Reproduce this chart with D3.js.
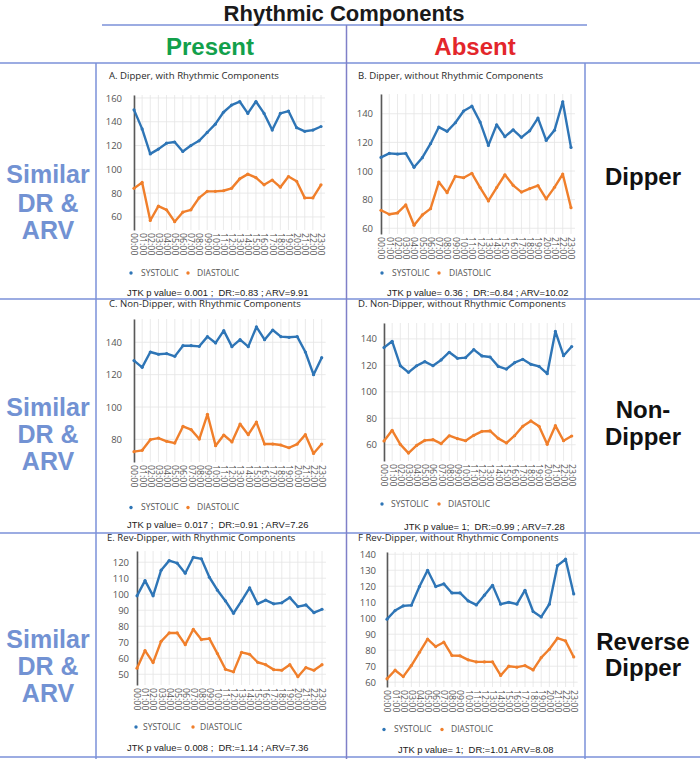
<!DOCTYPE html>
<html><head><meta charset="utf-8">
<script src="https://cdn.jsdelivr.net/npm/d3@7"></script>
<style>
html,body{margin:0;padding:0;background:#fff;}
svg{display:block;}
</style></head>
<body>
<svg id="chart" width="700" height="759"></svg>
<script>
// ---------------- DATA ----------------
const hours = ["00:00","01:00","02:00","03:00","04:00","05:00","06:00","07:00","08:00","09:00","10:00","11:00",
               "12:00","13:00","14:00","15:00","16:00","17:00","18:00","19:00","20:00","21:00","22:00","23:00"];
const seriesNames = ["SYSTOLIC","DIASTOLIC"];
const headerTitle = "Rhythmic Components";
const columnLabels = ["Present","Absent"];
const rowLeftLabels = [["Similar","DR &","ARV"],["Similar","DR &","ARV"],["Similar","DR &","ARV"]];
const rowRightLabels = [["Dipper"],["Non-","Dipper"],["Reverse","Dipper"]];

const panelTitles = [
  "A. Dipper, with Rhythmic Components",
  "B. Dipper, without Rhythmic Components",
  "C. Non-Dipper, with Rhythmic Components",
  "D. Non-Dipper, without Rhythmic Components",
  "E. Rev-Dipper, with Rhythmic Components",
  "F Rev-Dipper, without Rhythmic Components"
];
const panelStats = [
  "JTK p value= 0.001 ;  DR:=0.83 ; ARV=9.91",
  "JTK p value= 0.36 ;  DR:=0.84 ; ARV=10.02",
  "JTK p value= 0.017 ;  DR:=0.91 ; ARV=7.26",
  "JTK p value= 1;  DR:=0.99 ; ARV=7.28",
  "JTK p value= 0.008 ;  DR:=1.14 ; ARV=7.36",
  "JTK p value= 1;  DR:=1.01 ARV=8.08"
];

const sysA = [150,134,113,117,122,123,115,120,124,131,138,148,154,157,147,157,147,133,147,149,135,132,133,136];
const diaA = [84,89,57,69,66,56,64,66,76,81.5,81.5,82,84,92,96,93,87,91,85,94,90,76,76,87];
const sysB = [109.5,112.3,111.9,112.3,102.6,109.3,119.1,130.7,127.7,133.7,141.9,145.3,134.2,117.9,132.3,124,128.8,123.5,128.1,137,121.4,128.4,148.4,116.5];
const diaB = [72.6,69.8,70.7,76.3,62.1,69.3,73.7,92.3,84.9,96.3,95.3,98.4,88.4,79.1,88.4,97.4,90,85.3,87.7,89.8,80.5,88.6,97.9,74.4];
const sysC = [128.7,124.5,134,132.6,133,131.3,137.9,137.9,137.5,143.5,139.6,147.2,137.3,141.6,137.3,149.5,141.6,147.6,143.5,143.1,143.5,134,120,130.5];
const diaC = [72.4,73.2,79.8,80.8,78.8,77.7,88,86,80.2,95.5,76.1,82.7,78.4,89.5,82.9,90.7,77.1,77.1,76.5,74.8,77.1,82.9,71.3,77.1];
const sysD = [133.4,138.2,119.7,114.7,119.7,122.8,119.7,124.1,129.9,125.3,125.8,131.9,127.1,126.3,119.2,117.2,122,124.6,120.8,119.2,113.7,145.6,127.3,134.2];
const diaD = [62.8,70.9,60.3,53.7,59.5,63.3,63.8,60.8,66.8,64.6,63,67.1,70.1,70.4,64.8,61.3,66.8,73.9,78,73.9,60.3,74.4,63,66.6];
const sysE = [99,108.5,99,115,121,119.4,113.1,123.1,122.1,110.6,102.5,95.8,88.1,95.8,104,94,96.3,94,94.6,97.9,92.3,93.3,88.5,90.6];
const diaE = [53.8,64.8,57.3,70.6,75.8,75.8,68.5,78.1,71.7,72.3,62.9,53.1,51.5,63.7,62.5,57.5,56,52.9,52.5,56,48.5,54.2,52.5,56];
const sysF = [99.4,104.8,107.7,108.1,119.8,130,119.8,121.5,115.8,115.8,110.8,108.3,114.4,120.6,108.8,110,108.8,117.5,104.2,100.8,108.8,132.9,136.9,115.2];
const diaF = [62.1,67.5,63.5,70.4,78.7,86.9,82.3,85,76.7,76.5,74,72.7,72.7,72.7,64.2,70,69.4,70.4,67.7,75.4,80.6,87.5,85.8,75.8];

const ticksA = [60,80,100,120,140,160];
const ticksB = [60,80,100,120,140];
const ticksC = [80,100,120,140];
const ticksD = [60,80,100,120,140];
const ticksE = [50,60,70,80,90,100,110,120];
const ticksF = [60,70,80,90,100,110,120,130,140];

// ---------------- LAYOUT / STYLE ----------------
const colors = {sys:"#2e75b6", dia:"#f07f2b"};
const borderColor = "#7b90d8";
const panels = [
  {sys:sysA, dia:diaA, ticks:ticksA, domain:[49,162.5], x0:134, x1:321,   top:95,  bottom:230, pad:12, tx:109, ty:79,    sx:127, sy:296,   ly:273,   lx:[131,141,188,197]},
  {sys:sysB, dia:diaB, ticks:ticksB, domain:[56,153.8], x0:381, x1:571,   top:94,  bottom:234, pad:8,  tx:358, ty:78.7,  sx:387, sy:296,   ly:273,   lx:[382,392,439,449]},
  {sys:sysC, dia:diaC, ticks:ticksC, domain:[66,154.4], x0:134, x1:321.7, top:319, bottom:462, pad:12, tx:109, ty:307.3, sx:127, sy:528,   ly:507.5, lx:[131,141,188,197]},
  {sys:sysD, dia:diaD, ticks:ticksD, domain:[47.7,152], x0:384, x1:571.7, top:323, bottom:461, pad:7,  tx:358, ty:307.3, sx:404, sy:530,   ly:504,   lx:[382,391,439,448]},
  {sys:sysE, dia:diaE, ticks:ticksE, domain:[43.3,127], x0:137, x1:322,   top:551, bottom:685, pad:8,  tx:107, ty:540.7, sx:127, sy:750.5, ly:727,   lx:[136,143,193,200]},
  {sys:sysF, dia:diaF, ticks:ticksF, domain:[57,141.4], x0:387, x1:573.7, top:552, bottom:687, pad:11, tx:358, ty:540.7, sx:398, sy:753,   ly:729.5, lx:[384,394,442,451]}
];

const svg = d3.select("#chart");

// ---------------- TABLE FRAME ----------------
const frame = svg.append("g").attr("stroke", borderColor).attr("stroke-width", 1.5);
frame.append("line").attr("x1",102).attr("x2",587).attr("y1",25).attr("y2",25);
[63,299,533,757].forEach(y => frame.append("line").attr("x1",0).attr("x2",700).attr("y1",y).attr("y2",y));
frame.append("line").attr("x1",96).attr("x2",96).attr("y1",63).attr("y2",759);
frame.append("line").attr("x1",585).attr("x2",585).attr("y1",63).attr("y2",759);
frame.append("line").attr("x1",346.5).attr("x2",346.5).attr("y1",25).attr("y2",759).attr("stroke","#7f80c8");

svg.append("text").attr("x",344).attr("y",21).attr("text-anchor","middle")
  .style("font-family","Liberation Sans, Arial, sans-serif").style("font-weight","bold").style("font-size","22px")
  .attr("fill","#1a1a1a").text(headerTitle);
const colX = [210, 475], colColor = ["#12a04b","#e3262b"];
columnLabels.forEach((c,i) => svg.append("text").attr("x",colX[i]).attr("y",55).attr("text-anchor","middle")
  .style("font-family","Liberation Sans, Arial, sans-serif").style("font-weight","bold").style("font-size","24px")
  .attr("fill",colColor[i]).text(c));

const leftBase = [[183,211.5,238.5],[416,443,470],[648,675,702]];
rowLeftLabels.forEach((lines,r) => lines.forEach((t,k) =>
  svg.append("text").attr("x",48).attr("y",leftBase[r][k]).attr("text-anchor","middle")
    .style("font-family","Liberation Sans, Arial, sans-serif").style("font-weight","bold").style("font-size","25px")
    .attr("fill","#7292d3").text(t)));
const rightBase = [[185],[418,445],[650,676]];
rowRightLabels.forEach((lines,r) => lines.forEach((t,k) =>
  svg.append("text").attr("x",643).attr("y",rightBase[r][k]).attr("text-anchor","middle")
    .style("font-family","Liberation Sans, Arial, sans-serif").style("font-weight","bold").style("font-size","24px")
    .attr("fill","#111").text(t)));

// ---------------- PANELS ----------------
panels.forEach((p,i) => {
  const g = svg.append("g");
  const x = d3.scalePoint().domain(hours).range([p.x0, p.x1]);
  const y = d3.scaleLinear().domain(p.domain).range([p.bottom, p.top]);

  // grid
  const grid = g.append("g").attr("stroke","#e4e4e4").attr("stroke-width",0.8);
  hours.forEach(h => grid.append("line").attr("x1",x(h)).attr("x2",x(h)).attr("y1",p.top).attr("y2",p.bottom));
  p.ticks.forEach(t => grid.append("line").attr("x1",p.x0).attr("x2",p.x1+4).attr("y1",y(t)).attr("y2",y(t)));

  // y axis
  const ya = g.append("g").attr("transform",`translate(${p.x0},0)`)
    .call(d3.axisLeft(y).tickValues(p.ticks).tickSize(0).tickSizeOuter(0).tickPadding(p.pad));
  ya.select(".domain").attr("stroke","#595959").attr("stroke-width",1.6);
  ya.selectAll("text").attr("fill","#555").style("font-family","Open Sans, sans-serif").style("font-size","9.5px");

  // x axis
  const xa = g.append("g").attr("transform",`translate(0,${p.bottom})`)
    .call(d3.axisBottom(x).tickSize(0));
  xa.select(".domain").remove();
  xa.selectAll("text").attr("transform","rotate(90)").attr("x",3).attr("y",0).attr("dy","0.35em")
    .style("text-anchor","start").attr("fill","#555")
    .style("font-family","Open Sans, sans-serif").style("font-size","8.8px");

  // series
  const line = d3.line().x((d,k) => x(hours[k])).y(d => y(d));
  [["sys",p.sys],["dia",p.dia]].forEach(([key,vals]) => {
    g.append("path").datum(vals).attr("d",line).attr("fill","none")
      .attr("stroke",colors[key]).attr("stroke-width",2.4).attr("stroke-linejoin","round");
    g.selectAll(null).data(vals).enter().append("circle")
      .attr("cx",(d,k) => x(hours[k])).attr("cy",d => y(d)).attr("r",1.6).attr("fill",colors[key]);
  });

  // title
  g.append("text").attr("x",p.tx).attr("y",p.ty).attr("fill","#2a2a2a")
    .style("font-family","Open Sans, sans-serif").style("font-size","9.6px").text(panelTitles[i]);

  // legend
  [["sys",0],["dia",1]].forEach(([key,k]) => {
    g.append("circle").attr("cx",p.lx[k*2]).attr("cy",p.ly).attr("r",1.7).attr("fill",colors[key]);
    g.append("text").attr("x",p.lx[k*2+1]).attr("y",p.ly).attr("dy","0.35em").attr("fill","#555")
      .style("font-family","Open Sans, sans-serif").style("font-size","8.5px").text(seriesNames[k]);
  });

  // stats
  g.append("text").attr("x",p.sx).attr("y",p.sy).attr("fill","#1a1a1a").attr("xml:space","preserve")
    .style("white-space","pre").style("font-family","Liberation Sans, Arial, sans-serif").style("font-size","9.4px")
    .text(panelStats[i]);
});
</script>
</body></html>
